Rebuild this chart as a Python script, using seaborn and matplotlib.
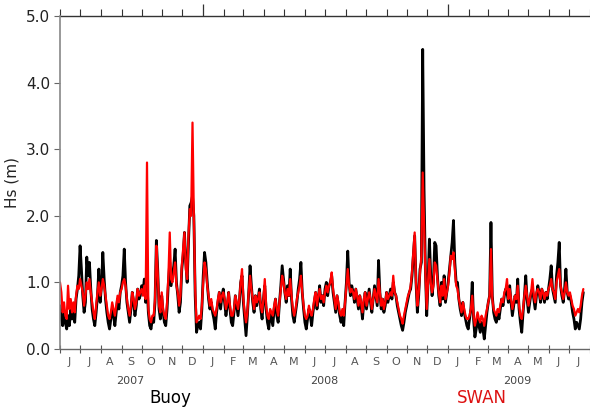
import numpy as np
import pandas as pd
import matplotlib
matplotlib.use("Agg")
import matplotlib.pyplot as plt
import matplotlib.dates as mdates
from matplotlib.ticker import FixedLocator, NullFormatter
import seaborn as sns

# ---------------- data (2-day samples from 2007-06-01) ----------------
start_date = "2007-06-01"
step = "2D"

buoy_hs = [
    0.65, 0.45, 0.35, 0.55, 0.40, 0.30, 0.50, 0.35, 0.60, 0.45,
    0.55, 0.40, 0.75, 0.90, 1.10, 1.55, 1.20, 0.80, 0.55, 0.70,
    1.38, 1.10, 1.30, 0.90, 0.60, 0.45, 0.35, 0.55, 0.80, 1.20,
    0.70, 0.95, 1.45, 1.05, 0.75, 0.55, 0.40, 0.30, 0.45, 0.60,
    0.50, 0.35, 0.55, 0.75, 0.60, 0.85, 0.95, 1.10, 1.50, 1.00,
    0.70, 0.55, 0.40, 0.60, 0.85, 0.70, 0.50, 0.65, 0.90, 0.75,
    0.80, 0.95, 0.85, 1.05, 0.70, 1.00, 0.55, 0.35, 0.30, 0.45,
    0.40, 0.70, 1.63, 1.20, 0.60, 0.45, 0.80, 0.55, 0.40, 0.35,
    0.60, 1.00, 1.30, 0.95, 1.10, 1.25, 1.50, 1.00, 0.80, 0.55,
    0.70, 1.20, 1.40, 1.75, 1.30, 1.00, 1.60, 2.15, 2.20, 2.30,
    2.00, 0.80, 0.25, 0.35, 0.40, 0.30, 0.60, 1.10, 1.45, 1.30,
    1.00, 0.75, 0.60, 0.70, 0.55, 0.45, 0.30, 0.55, 0.70, 0.85,
    0.60, 0.80, 0.90, 0.70, 0.50, 0.65, 0.85, 0.60, 0.40, 0.35,
    0.55, 0.80, 0.65, 0.50, 0.70, 1.00, 1.10, 0.70, 0.45, 0.20,
    0.50, 0.85, 1.25, 0.95, 0.70, 0.55, 0.80, 0.65, 0.75, 0.90,
    0.60, 0.45, 0.75, 0.95, 0.60, 0.40, 0.30, 0.55, 0.45, 0.35,
    0.60, 0.75, 0.50, 0.40, 0.70, 0.95, 1.25, 1.05, 0.85, 0.70,
    0.95, 0.80, 1.20, 0.75, 0.50, 0.40, 0.55, 0.70, 0.90, 1.05,
    1.30, 0.85, 0.60, 0.40, 0.30, 0.45, 0.60, 0.50, 0.35, 0.55,
    0.70, 0.85, 0.60, 0.75, 0.95, 0.70, 0.80, 0.65, 0.90, 1.00,
    0.80, 0.95, 1.00, 1.10, 0.85, 0.70, 0.55, 0.80, 0.65, 0.50,
    0.40, 0.55, 0.35, 0.70, 1.00, 1.47, 1.00, 0.80, 0.95, 0.85,
    0.70, 0.90, 0.75, 0.60, 0.80, 0.65, 0.45, 0.70, 0.85, 0.60,
    0.75, 0.90, 0.70, 0.55, 0.75, 0.95, 0.80, 0.65, 1.33, 0.85,
    0.60, 0.75, 0.55, 0.65, 0.85, 0.70, 0.80, 0.90, 0.75, 1.00,
    0.85, 0.80, 0.65, 0.55, 0.45, 0.35, 0.28, 0.40, 0.55, 0.65,
    0.75, 0.85, 0.90, 1.10, 1.40, 1.70, 1.00, 0.55, 0.80, 1.20,
    1.30, 4.50, 2.40, 1.20, 0.50, 1.00, 1.65, 1.10, 0.80, 1.00,
    1.60, 1.55, 1.10, 0.80, 0.65, 1.00, 0.75, 1.10, 0.70, 0.85,
    1.00, 1.20, 1.40, 1.60, 1.93, 1.30, 1.00, 1.00, 0.75, 0.60,
    0.50, 0.70, 0.55, 0.45, 0.35, 0.30, 0.45, 0.60, 1.00, 0.45,
    0.18, 0.30, 0.45, 0.35, 0.25, 0.40, 0.30, 0.15, 0.35, 0.55,
    0.70, 0.80, 1.90, 0.80, 0.55, 0.45, 0.40, 0.55, 0.45, 0.60,
    0.75, 0.65, 0.80, 0.90, 0.85, 0.70, 0.95, 0.70, 0.50, 0.65,
    0.80, 0.70, 1.05, 0.60, 0.40, 0.25, 0.55, 0.80, 1.10, 0.75,
    0.55, 0.70, 0.85, 0.90, 0.75, 0.60, 0.80, 0.95, 0.85, 0.70,
    0.90, 0.80, 0.70, 0.85, 0.75, 0.90, 1.05, 1.25, 0.90, 0.80,
    0.70, 1.10, 1.30, 1.60, 0.95, 0.80, 0.70, 0.90, 1.20, 0.85,
    0.75, 0.80, 0.70, 0.55, 0.45, 0.30, 0.40, 0.35, 0.30, 0.45,
    0.70, 0.85,
]

swan_hs = [
    1.00, 0.85, 0.55, 0.70, 0.50, 0.45, 0.95, 0.60, 0.75, 0.55,
    0.70, 0.55, 0.80, 0.95, 0.90, 1.05, 0.95, 0.85, 0.65, 0.80,
    1.00, 0.90, 1.05, 0.85, 0.70, 0.55, 0.45, 0.65, 0.85, 1.00,
    0.80, 0.90, 1.05, 0.95, 0.80, 0.65, 0.50, 0.45, 0.55, 0.70,
    0.60, 0.50, 0.65, 0.80, 0.70, 0.85, 0.90, 1.00, 1.05, 0.95,
    0.75, 0.60, 0.50, 0.65, 0.85, 0.75, 0.60, 0.70, 0.90, 0.80,
    0.85, 0.90, 0.80, 0.95, 0.75, 2.80, 0.60, 0.45, 0.40, 0.50,
    0.50, 0.75, 1.55, 1.15, 0.65, 0.55, 0.85, 0.60, 0.50, 0.45,
    0.70, 1.10, 1.75, 1.05, 1.00, 1.15, 1.30, 0.95, 0.85, 0.65,
    0.80, 1.25, 1.50, 1.75, 1.20, 1.05, 1.70, 2.10, 2.00, 3.40,
    2.00, 0.90, 0.40, 0.45, 0.50, 0.45, 0.65, 1.00, 1.30, 1.20,
    0.95, 0.80, 0.65, 0.75, 0.60, 0.55, 0.50, 0.60, 0.75, 0.85,
    0.70, 0.80, 0.85, 0.75, 0.60, 0.70, 0.85, 0.65, 0.50, 0.50,
    0.60, 0.80, 0.70, 0.60, 0.75, 1.00, 1.20, 0.75, 0.55, 0.40,
    0.55, 0.85, 1.10, 0.90, 0.75, 0.60, 0.80, 0.70, 0.75, 0.85,
    0.65, 0.55, 0.75, 1.05, 0.65, 0.50, 0.45, 0.60, 0.55, 0.50,
    0.65, 0.75, 0.60, 0.50, 0.70, 0.90, 1.10, 1.00, 0.85, 0.75,
    0.90, 0.80, 1.05, 0.80, 0.60, 0.50, 0.60, 0.75, 0.85, 0.95,
    1.10, 0.85, 0.65, 0.50, 0.45, 0.50, 0.65, 0.55, 0.50, 0.60,
    0.75, 0.85, 0.65, 0.80, 0.90, 0.75, 0.80, 0.70, 0.85, 0.95,
    0.85, 0.95, 1.00, 1.15, 0.90, 0.75, 0.60, 0.80, 0.70, 0.55,
    0.50, 0.60, 0.50, 0.70, 0.95, 1.20, 0.95, 0.85, 0.90, 0.85,
    0.75, 0.90, 0.80, 0.65, 0.80, 0.70, 0.55, 0.75, 0.85, 0.65,
    0.75, 0.85, 0.75, 0.60, 0.75, 0.90, 0.80, 0.70, 1.05, 0.85,
    0.65, 0.75, 0.60, 0.70, 0.85, 0.75, 0.80, 0.85, 0.80, 1.10,
    0.85, 0.80, 0.70, 0.60, 0.50, 0.45, 0.38, 0.50, 0.60, 0.70,
    0.80, 0.85, 0.95, 1.15, 1.45, 1.75, 1.00, 0.65, 0.85, 1.15,
    1.40, 2.65, 1.90, 1.15, 0.60, 1.00, 1.35, 1.00, 0.85, 0.95,
    1.30, 1.25, 1.05, 0.85, 0.70, 0.95, 0.80, 1.05, 0.75, 0.85,
    0.95, 1.15, 1.40, 1.35, 1.45, 1.20, 0.95, 0.90, 0.75, 0.65,
    0.55, 0.70, 0.60, 0.50, 0.45, 0.45, 0.50, 0.60, 0.80, 0.50,
    0.35, 0.45, 0.55, 0.45, 0.40, 0.50, 0.45, 0.35, 0.50, 0.60,
    0.70, 0.80, 1.50, 0.75, 0.60, 0.55, 0.50, 0.60, 0.55, 0.65,
    0.75, 0.70, 0.85, 0.90, 1.05, 0.75, 0.90, 0.75, 0.60, 0.70,
    0.80, 0.75, 0.95, 0.65, 0.50, 0.45, 0.60, 0.80, 0.95, 0.80,
    0.65, 0.75, 0.85, 1.05, 0.80, 0.70, 0.85, 0.90, 0.85, 0.75,
    0.90, 0.85, 0.75, 0.85, 0.80, 0.90, 0.95, 1.05, 0.90, 0.85,
    0.75, 1.00, 1.10, 1.20, 0.95, 0.85, 0.75, 0.85, 1.00, 0.85,
    0.80, 0.85, 0.75, 0.65, 0.60, 0.50, 0.55, 0.60, 0.55, 0.65,
    0.80, 0.90,
]

month_letters = ["J", "J", "A", "S", "O", "N", "D",
                 "J", "F", "M", "A", "M", "J", "J", "A", "S", "O", "N", "D",
                 "J", "F", "M", "A", "M", "J", "J"]
year_labels = ["2007", "2008", "2009"]
year_label_dates = ["2007-09-14", "2008-06-30", "2009-04-14"]
series_names = ["Buoy", "SWAN"]
series_colors = ["#000000", "#ff0000"]
series_widths = [2.0, 1.6]
y_ticks = [0.0, 1.0, 2.0, 3.0, 4.0, 5.0]
y_label = "Hs (m)"

# ---------------- figure ----------------
sns.set_style("white")
plt.rcParams["font.family"] = ["DejaVu Sans"]

fig = plt.figure(figsize=(5.9, 4.12), dpi=100)
ax = fig.add_axes([0.1017, 0.153, 0.8983, 0.808])

n = len(buoy_hs)
dates = pd.date_range(start_date, periods=n, freq=step)
for name, vals, col, lw in zip(series_names, [buoy_hs, swan_hs], series_colors, series_widths):
    d = pd.DataFrame({"date": dates[:len(vals)], "Hs": vals})
    sns.lineplot(data=d, x="date", y="Hs", color=col, linewidth=lw,
                 estimator=None, legend=False, ax=ax)

ax.set_xlim(pd.Timestamp("2007-06-01"), pd.Timestamp("2009-07-23"))
ax.set_ylim(0, 5.0)
ax.set_yticks(y_ticks)
ax.set_yticklabels([f"{v:.1f}" for v in y_ticks], fontsize=11, color="#222222")
ax.set_ylabel(y_label, fontsize=11, color="#222222", labelpad=5)
ax.set_xlabel("")

# bottom axis: month-boundary ticks, month letters at mid-month
month_starts = pd.date_range("2007-06-01", periods=27, freq="MS")
mid_months = pd.date_range("2007-06-01", periods=len(month_letters), freq="MS") + pd.Timedelta(days=14)
ax.set_xticks(month_starts)
ax.set_xticklabels([""] * len(month_starts))
ax.set_xticks(mid_months, minor=True)
ax.set_xticklabels(month_letters, minor=True, fontsize=8, color="#555555")
ax.tick_params(axis="x", which="major", direction="inout", length=6, width=0.8,
               color="#555555", bottom=True)
ax.tick_params(axis="x", which="minor", length=0, pad=6, bottom=True)
ax.tick_params(axis="y", which="major", direction="out", length=4, width=0.8,
               color="#666666", left=True, pad=3)

# top axis: outward ticks at month starts, longer at year starts
sec = ax.secondary_xaxis("top")
year_starts = [pd.Timestamp("2008-01-01"), pd.Timestamp("2009-01-01")]
sec.xaxis.set_major_locator(FixedLocator([mdates.date2num(d) for d in year_starts]))
sec.xaxis.set_major_formatter(NullFormatter())
sec.xaxis.set_minor_locator(FixedLocator([mdates.date2num(d) for d in month_starts]))
sec.xaxis.set_minor_formatter(NullFormatter())
sec.tick_params(which="major", direction="out", length=9, width=0.9, color="#333333")
sec.tick_params(which="minor", direction="out", length=5, width=0.8, color="#333333")
sec.spines["top"].set_color("#333333")
sec.spines["top"].set_linewidth(1.0)

for side in ["top", "right"]:
    ax.spines[side].set_visible(False)
ax.spines["left"].set_color("#888888")
ax.spines["left"].set_linewidth(1.2)
ax.spines["bottom"].set_color("#666666")
ax.spines["bottom"].set_linewidth(1.0)

# year labels
for lab, d in zip(year_labels, year_label_dates):
    ax.text(pd.Timestamp(d), -0.48, lab, transform=ax.transData,
            ha="center", va="center", fontsize=8, color="#444444", clip_on=False)

# series names at the bottom
fig.text(170 / 590, 1 - 398 / 412, series_names[0], ha="center", va="center",
         fontsize=12, color=series_colors[0])
fig.text(482 / 590, 1 - 398 / 412, series_names[1], ha="center", va="center",
         fontsize=12, color="#dd1111")

fig.savefig("out.png", dpi=100)
